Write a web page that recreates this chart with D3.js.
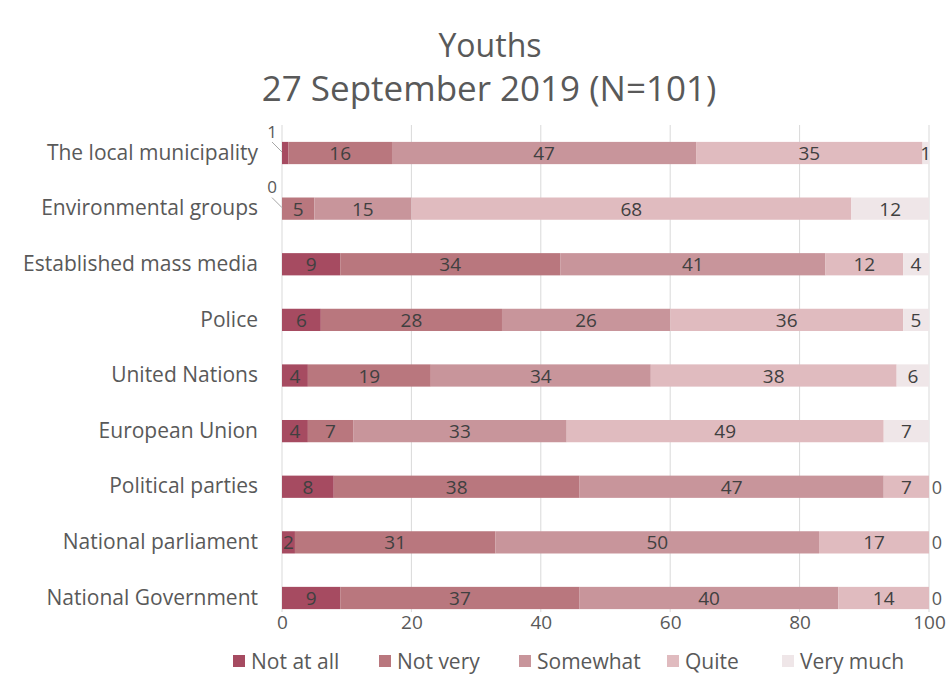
<!DOCTYPE html>
<html>
<head>
<meta charset="utf-8">
<script src="https://cdn.jsdelivr.net/npm/d3@7"></script>
<style>
  html, body { margin: 0; padding: 0; background: #fff; }
  svg { display: block; font-family: "Open Sans", "Noto Sans", sans-serif; }
</style>
</head>
<body>
<svg id="chart" width="950" height="700"></svg>
<script>
// ---- data ----
const titleLines = ["Youths", "27 September 2019 (N=101)"];
const categories = [
  "The local municipality",
  "Environmental groups",
  "Established mass media",
  "Police",
  "United Nations",
  "European Union",
  "Political parties",
  "National parliament",
  "National Government"
];
const seriesNames = ["Not at all", "Not very", "Somewhat", "Quite", "Very much"];
const notAtAll = [1, 0, 9, 6, 4, 4, 8, 2, 9];
const notVery  = [16, 5, 34, 28, 19, 7, 38, 31, 37];
const somewhat = [47, 15, 41, 26, 34, 33, 47, 50, 40];
const quite    = [35, 68, 12, 36, 38, 49, 7, 17, 14];
const veryMuch = [1, 12, 4, 5, 6, 7, 0, 0, 0];
const xTicks = [0, 20, 40, 60, 80, 100];
const colors = ["#a64b61", "#b9777e", "#c8959b", "#e0bbbf", "#efe6e8"];

// ---- build ----
const seriesValues = [notAtAll, notVery, somewhat, quite, veryMuch];
const rows = categories.map((c, i) => {
  const r = { category: c };
  seriesNames.forEach((s, k) => r[s] = seriesValues[k][i]);
  return r;
});

const svg = d3.select("#chart");
const textColor = "#595959";
const labelColor = "#404040";

const x = d3.scaleLinear().domain([0, 100]).range([282, 929]);
const y = d3.scaleBand().domain(categories).range([125.2, 625.8])
  .paddingInner(0.6).paddingOuter(0.3);

// title
svg.append("text").attr("x", 490).attr("y", 57).attr("text-anchor", "middle")
  .attr("font-size", 32).attr("fill", textColor).text(titleLines[0]);
svg.append("text").attr("x", 489).attr("y", 101).attr("text-anchor", "middle")
  .attr("font-size", 35).attr("fill", textColor).text(titleLines[1]);

// gridlines
svg.append("g").selectAll("line").data(xTicks).join("line")
  .attr("x1", d => x(d)).attr("x2", d => x(d))
  .attr("y1", 125).attr("y2", 612)
  .attr("stroke", "#d9d9d9").attr("stroke-width", 1);

// x axis tick labels
const xAxis = d3.axisBottom(x).tickValues(xTicks).tickSize(0).tickPadding(0);
const xg = svg.append("g").attr("transform", "translate(0,615)").call(xAxis);
xg.select(".domain").remove();
xg.selectAll("text").attr("font-size", 19).attr("fill", textColor)
  .attr("font-family", "'Open Sans', sans-serif");

// y axis labels
const yAxis = d3.axisLeft(y).tickSize(0).tickPadding(0);
const yg = svg.append("g").attr("transform", "translate(258,0)").call(yAxis);
yg.select(".domain").remove();
yg.selectAll("text").attr("font-size", 21).attr("fill", textColor)
  .attr("font-family", "'Open Sans', sans-serif");

// stacks
const stack = d3.stack().keys(seriesNames);
const stacked = stack(rows);

svg.append("defs").append("clipPath").attr("id", "plotclip")
  .append("rect").attr("x", x(0)).attr("y", 0).attr("width", x(100) - x(0)).attr("height", 700);

const barG = svg.append("g").attr("clip-path", "url(#plotclip)");
stacked.forEach((layer, k) => {
  barG.append("g").selectAll("rect").data(layer).join("rect")
    .attr("x", d => x(d[0]))
    .attr("y", d => y(d.data.category))
    .attr("width", d => Math.max(0, x(Math.min(100, d[1])) - x(Math.min(100, d[0]))))
    .attr("height", y.bandwidth())
    .attr("fill", colors[k]);
});

// data labels
const lblG = svg.append("g").attr("font-size", 19).attr("fill", labelColor);
stacked.forEach((layer, k) => {
  layer.forEach(d => {
    const v = d.data[seriesNames[k]];
    const yc = y(d.data.category) + y.bandwidth() / 2;
    const a = x(Math.min(100, d[0])), b = x(Math.min(100, d[1]));
    if (k === 0 && v <= 1) {
      // callout above-left with leader line
      lblG.append("line")
        .attr("x1", x(0) - 10).attr("y1", yc - 11)
        .attr("x2", x(0)).attr("y2", yc - 1)
        .attr("stroke", "#a6a6a6").attr("stroke-width", 1);
      lblG.append("text").attr("x", x(0) - 10).attr("y", yc - 22)
        .attr("text-anchor", "middle").attr("dominant-baseline", "central")
        .attr("font-size", 17)
        .attr("fill", textColor).text(v);
    } else if (k === seriesNames.length - 1 && v === 0) {
      lblG.append("text").attr("x", b + 8).attr("y", yc)
        .attr("text-anchor", "middle").attr("dominant-baseline", "central")
        .attr("font-size", 18)
        .attr("fill", textColor).text(v);
    } else {
      lblG.append("text").attr("x", (a + b) / 2).attr("y", yc)
        .attr("text-anchor", "middle").attr("dominant-baseline", "central")
        .text(v);
    }
  });
});

// legend
const legendX = [233, 379, 519, 667, 782];
const lg = svg.append("g");
seriesNames.forEach((s, k) => {
  lg.append("rect").attr("x", legendX[k]).attr("y", 655).attr("width", 12).attr("height", 12)
    .attr("fill", colors[k]);
  lg.append("text").attr("x", legendX[k] + 18).attr("y", 661)
    .attr("dominant-baseline", "central").attr("font-size", 21)
    .attr("fill", textColor).text(s);
});
</script>
</body>
</html>
